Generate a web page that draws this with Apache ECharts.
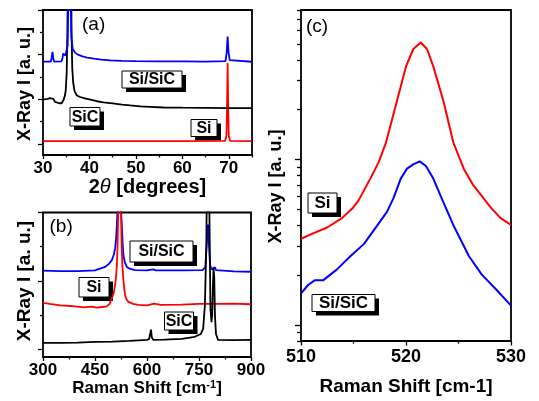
<!DOCTYPE html>
<html><head><meta charset="utf-8">
<script src="https://cdn.jsdelivr.net/npm/echarts@6/dist/echarts.min.js"></script>
<style>html,body{margin:0;padding:0;background:#fff}#c{width:539px;height:401px}</style>
</head><body><div id="c"></div>
<script>
// ---------- Panel (a): XRD, 2-theta (degrees) ----------
const xrdBlackX = [30,30.5,31,31.5,31.9,32.2,32.6,33,33.5,34,34.4,34.7,34.9,35.1,35.25,35.4,35.6,35.8,36,36.15,36.3,36.5,36.8,37.3,38,39,40,41.6,43,45,47,48.8,51,53,56,60,65,70,75];
const xrdBlackY = [1.99,2.0,2.02,2.05,2.12,2.02,1.88,1.84,1.82,1.82,1.95,2.15,2.4,3.2,5,9,14,14,9,5,3.4,2.75,2.35,2.17,2.1,2.04,1.99,1.91,1.86,1.81,1.76,1.72,1.68,1.66,1.63,1.62,1.61,1.6,1.6];
const xrdBlueX = [30,31.7,31.85,32.05,32.2,32.4,34.0,34.2,34.35,34.6,34.8,35.1,35.3,35.5,35.7,35.9,36.1,36.4,36.9,37.5,38.5,39.5,41,42.5,44.5,47,50,55,60,65,69.3,69.55,69.75,69.95,70.2,70.6,75];
const xrdBlueY = [3.69,3.69,3.85,4.12,3.85,3.69,3.7,3.85,4.05,4.05,3.95,3.98,4.4,7,14,7,4.8,4.25,4.09,4.0,3.92,3.87,3.82,3.78,3.74,3.72,3.71,3.7,3.7,3.69,3.71,4.1,4.81,4.1,3.75,3.7,3.68];
const xrdRedX = [30,40,50,60,69.2,69.5,69.62,69.75,69.88,70.0,70.3,75];
const xrdRedY = [0.12,0.12,0.12,0.12,0.13,0.35,1.6,3.62,1.6,0.35,0.13,0.12];
const xrdXLabels = [30,40,50,60,70];
const xrdXMinor = [35,45,55,65,75];
const xrdYMajor = [0,2,4,6];
const xrdYMinor = [1,3,5];

// ---------- Panel (b): Raman, full range ----------
const ramBlueX = [300,350,400,450,479,490,498.6,504,508,511,513,515,517,520,523,525,527.3,529.5,532,536,541.7,550,565,600,618,625,700,760,768,772,776,779,782,788,793,796,799,850,900];
const ramBlueY = [2.30,2.29,2.29,2.31,2.41,2.5,2.61,2.76,2.95,3.25,3.63,4.1,4.6,5.2,4.6,4.1,3.63,3.15,2.76,2.55,2.41,2.36,2.32,2.31,2.34,2.31,2.31,2.32,2.4,3.0,3.65,3.0,2.45,2.33,2.33,2.4,2.32,2.28,2.27];
const ramRedX = [300,320,350,380,417,440,455,470,484,492,498.6,504,508,511,513,515,517,519,521,523,525,527,529,532,536.7,541,546.5,560,575,600,620,640,700,750,800,850,900];
const ramRedY = [1.36,1.33,1.29,1.27,1.23,1.25,1.22,1.24,1.26,1.33,1.49,1.65,1.88,2.15,2.46,3.0,4.0,5.5,6.5,5.5,4.0,3.0,2.46,2.0,1.59,1.46,1.39,1.33,1.30,1.29,1.34,1.30,1.31,1.33,1.33,1.34,1.32];
const ramBlackX = [300,350,400,450,500,550,600,606,609,611.5,614,618,650,700,738,755,762,767,771,774,777,780,783,786,788,790,792,794,796,799,805,850,900];
const ramBlackY = [0.19,0.19,0.20,0.22,0.23,0.25,0.28,0.30,0.45,0.58,0.35,0.28,0.29,0.31,0.37,0.45,0.61,1.3,3,6,7,4,1.2,0.8,1.0,1.8,2.4,2.1,1.0,0.45,0.28,0.27,0.28];
const ramYMajor = [0,2,4];
const ramYMinor = [1,3];

// ---------- Panel (c): Raman zoom, log intensity ----------
const zRedX = [510.0,511.2,512.5,513.9,514.9,515.5,516.6,517.4,518.1,519.1,520.0,520.7,521.4,522.0,522.6,523.6,524.5,525.5,526.4,527.4,528.0,529.0,530.0];
const zRedY = [3.32,3.59,3.88,4.42,5.07,5.68,7.66,9.64,12.7,22.1,36.5,46.5,50.9,46.5,36.5,22.1,12.7,8.8,6.99,5.82,5.19,4.42,4.02];
const zBlueX = [510.0,510.7,511.3,512.1,513.4,514.7,516.0,517.2,518.2,518.8,519.5,520.1,520.7,521.3,521.9,522.6,523.4,524.5,526.0,527.2,528.7,530.0];
const zBlueY = [1.55,1.75,1.86,1.86,2.16,2.60,3.09,3.94,4.84,5.82,7.66,8.8,9.33,9.73,9.13,7.66,5.82,4.02,2.60,2.02,1.61,1.31];
const zYMajor = [1,10];
const zYMinor = [0.8,0.9,2,3,4,5,6,7,8,9,20,30,40,50,60,70,80];

const FONT = '"Liberation Sans", Arial, Helvetica, sans-serif';
const pairs = (xs, ys) => xs.map((x, i) => [x, ys[i]]);
const tickStyle = {color:'#000', width:1.3};
const gridBox = {show:true, borderColor:'#000', borderWidth:1.8, backgroundColor:'rgba(0,0,0,0)'};
const bold = (s) => ({fontSize:s, fontWeight:'bold', fontFamily:FONT, color:'#000'});

function baseAxis(extra) {
  return Object.assign({
    type:'value',
    axisLine:{show:false, onZero:false},
    splitLine:{show:false},
    minorSplitLine:{show:false},
    axisLabel:{show:false},
    axisTick:{show:false},
  }, extra);
}

const xAxis = [
  baseAxis({gridIndex:0, min:30, max:75, position:'bottom',
    axisTick:{show:true, customValues:xrdXLabels, length:4, lineStyle:tickStyle},
    axisLabel:Object.assign({show:true, customValues:xrdXLabels, margin:5}, bold(17)),
    name:'{a|2}{t|θ}{a| [degrees]}', nameLocation:'middle', nameGap:22,
    nameTextStyle:{rich:{a:bold(20), t:{fontSize:20, fontStyle:'italic', fontFamily:FONT, color:'#000'}}}
  }),
  baseAxis({gridIndex:0, min:30, max:75, position:'bottom',
    axisTick:{show:true, customValues:xrdXMinor, length:2.5, lineStyle:tickStyle}}),
  baseAxis({gridIndex:1, min:300, max:900, interval:150, position:'bottom',
    axisTick:{show:true, length:4, lineStyle:tickStyle},
    minorTick:{show:true, splitNumber:2, length:2.5, lineStyle:tickStyle},
    axisLabel:Object.assign({show:true, margin:5}, bold(17)),
    name:'{a|Raman Shift [cm}{s|-1}{a|]}', nameLocation:'middle', nameGap:20,
    nameTextStyle:{rich:{a:bold(17), s:Object.assign({verticalAlign:'top'}, bold(11))}}
  }),
  baseAxis({gridIndex:2, min:510, max:530, interval:10, position:'bottom',
    axisTick:{show:true, length:4.5, lineStyle:tickStyle},
    minorTick:{show:true, splitNumber:2, length:2.7, lineStyle:tickStyle},
    axisLabel:Object.assign({show:true, margin:7}, bold(18)),
    name:'Raman Shift [cm-1]', nameLocation:'middle', nameGap:36,
    nameTextStyle:bold(19)
  })
];

const yAxis = [
  baseAxis({gridIndex:0, min:-0.5, max:6, position:'left',
    axisTick:{show:true, customValues:xrdYMajor, length:5, lineStyle:tickStyle}}),
  baseAxis({gridIndex:0, min:-0.5, max:6, position:'left',
    axisTick:{show:true, customValues:xrdYMinor, length:3, lineStyle:tickStyle}}),
  baseAxis({gridIndex:1, min:-0.22, max:4, position:'left',
    axisTick:{show:true, customValues:ramYMajor, length:5, lineStyle:tickStyle}}),
  baseAxis({gridIndex:1, min:-0.22, max:4, position:'left',
    axisTick:{show:true, customValues:ramYMinor, length:3, lineStyle:tickStyle}}),
  baseAxis({gridIndex:2, type:'log', logBase:10, min:0.8, max:80, position:'left',
    axisTick:{show:true, customValues:zYMajor, length:6, lineStyle:tickStyle}}),
  baseAxis({gridIndex:2, type:'log', logBase:10, min:0.8, max:80, position:'left',
    axisTick:{show:true, customValues:zYMinor, length:4, lineStyle:tickStyle}})
];

function line(xi, yi, xs, ys, color, w) {
  return {type:'line', xAxisIndex:xi, yAxisIndex:yi, data:pairs(xs, ys),
    showSymbol:false, symbol:'none', animation:false,
    lineStyle:{color:color, width:w}, itemStyle:{color:color}};
}

const series = [
  line(0, 0, xrdRedX, xrdRedY, '#ff0000', 1.8),
  line(0, 0, xrdBlackX, xrdBlackY, '#000000', 1.8),
  line(0, 0, xrdBlueX, xrdBlueY, '#0000ff', 1.8),
  line(2, 2, ramBlueX, ramBlueY, '#0000ff', 1.8),
  line(2, 2, ramRedX, ramRedY, '#ff0000', 1.8),
  line(2, 2, ramBlackX, ramBlackY, '#000000', 1.8),
  line(3, 4, zRedX, zRedY, '#ff0000', 2),
  line(3, 4, zBlueX, zBlueY, '#0000ff', 2)
];

function box(x, y, w, h, txt, fs) {
  return {type:'group', z:100, children:[
    {type:'rect', shape:{x:x+4, y:y+4, width:w, height:h}, style:{fill:'#000'}},
    {type:'rect', shape:{x:x, y:y, width:w, height:h}, style:{fill:'#fff', stroke:'#000', lineWidth:1}},
    {type:'text', x:x+w/2, y:y+h/2+0.5, style:{text:txt, font:'bold '+fs+'px '+FONT, fill:'#000',
      textAlign:'center', textVerticalAlign:'middle', align:'center', verticalAlign:'middle'}}
  ]};
}
function panelLabel(x, y, txt) {
  return {type:'text', z:100, x:x, y:y, style:{text:txt, font:'19px '+FONT, fill:'#000',
    textAlign:'left', textVerticalAlign:'top', align:'left', verticalAlign:'top'}};
}
function yTitle(x, y, fs) {
  return {type:'text', z:100, x:x, y:y, rotation:Math.PI/2,
    style:{text:'X-Ray I [a. u.]', font:'bold '+fs+'px '+FONT, fill:'#000',
      textAlign:'center', textVerticalAlign:'middle', align:'center', verticalAlign:'middle'}};
}

const graphic = [
  yTitle(25, 84, 18),
  yTitle(25, 281, 19),
  yTitle(276.5, 186.5, 18),
  panelLabel(82, 15.5, '(a)'),
  panelLabel(49.5, 217.5, '(b)'),
  panelLabel(306, 17.5, '(c)'),
  box(122, 71, 60, 17, 'Si/SiC', 16),
  box(70, 107.5, 30, 18.5, 'SiC', 16),
  box(191, 119.5, 26, 17, 'Si', 16),
  box(130, 241, 63, 21, 'Si/SiC', 16),
  box(79, 277.5, 30, 19.5, 'Si', 16),
  box(164.5, 312, 29, 18, 'SiC', 16),
  box(308, 193, 29, 20, 'Si', 17),
  box(312, 294.5, 63, 17, 'Si/SiC', 17)
];

const chart = echarts.init(document.getElementById('c'), null, {renderer:'canvas', devicePixelRatio:1});
chart.setOption({
  animation:false,
  backgroundColor:'#fff',
  grid:[
    Object.assign({left:43, top:10, width:209, height:145}, gridBox),
    Object.assign({left:43, top:212.5, width:208, height:144.5}, gridBox),
    Object.assign({left:301, top:10, width:210, height:334}, gridBox)
  ],
  xAxis:xAxis,
  yAxis:yAxis,
  series:series,
  graphic:graphic
});
</script>
</body></html>
